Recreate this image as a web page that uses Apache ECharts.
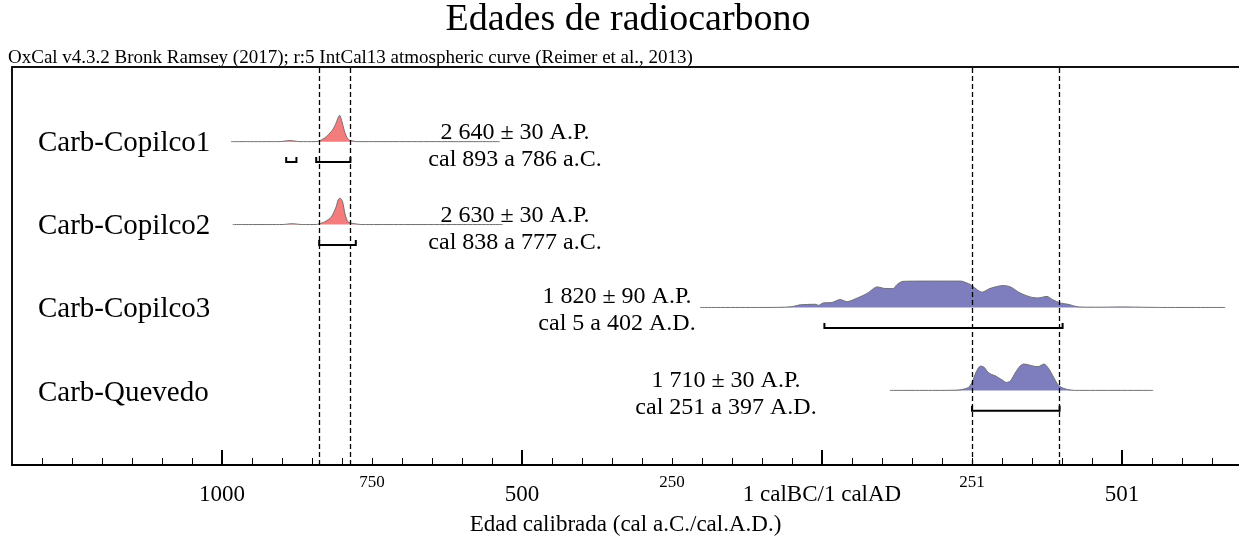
<!DOCTYPE html>
<html><head><meta charset="utf-8">
<script src="https://cdn.jsdelivr.net/npm/echarts@6/dist/echarts.min.js"></script>
<style>html,body{margin:0;padding:0;background:#fff}#c{width:1239px;height:536px}</style>
</head><body><div id="c"></div>
<script>
// ---- data (years: negative = BC, axis value) ----
const rowNames = ['Carb-Copilco1','Carb-Copilco2','Carb-Copilco3','Carb-Quevedo'];
const dateLabels = ['2 640 ± 30 A.P.','2 630 ± 30 A.P.','1 820 ± 90 A.P.','1 710 ± 30 A.P.'];
const calLabels = ['cal 893 a 786 a.C.','cal 838 a 777 a.C.','cal 5 a 402 A.D.','cal 251 a 397 A.D.'];
// relative probability [year, prob]
const copilco1 = [[-985,0],[-905,0],[-887,0.04],[-870,0],[-845,0],[-839,0.02],[-830,0.12],[-822,0.28],[-815,0.47],[-810,0.7],[-806,0.93],[-804,1.0],[-800,0.75],[-796,0.4],[-792,0.17],[-788,0.06],[-781,0.02],[-776,0],[-537,0]];
const copilco2 = [[-982,0],[-900,0],[-883,0.03],[-866,0],[-843,0],[-838,0.03],[-829,0.1],[-818,0.28],[-810,0.66],[-806,0.96],[-803,1.0],[-799,0.86],[-795,0.4],[-790,0.1],[-781,0.04],[-767,0],[-532,0]];
const copilco3 = [[-203,0],[-100,0],[-63,0.01],[-48,0.04],[-36,0.1],[-11,0.12],[-6,0.08],[2,0.17],[17,0.19],[30,0.3],[42,0.22],[59,0.36],[75,0.53],[92,0.78],[105,0.72],[119,0.72],[125,0.87],[135,0.99],[180,1.0],[230,1.0],[234,0.99],[247,0.87],[267,0.58],[280,0.72],[302,0.83],[314,0.78],[330,0.55],[347,0.4],[360,0.36],[375,0.42],[384,0.3],[397,0.17],[410,0.12],[425,0.03],[442,0.01],[470,0.01],[497,0.02],[530,0.01],[570,0],[672,0]];
const quevedo = [[113,0],[200,0],[225,0.01],[235,0.04],[244,0.11],[250,0.3],[257,0.7],[264,0.92],[270,0.88],[277,0.68],[283,0.6],[289,0.55],[294,0.48],[300,0.4],[307,0.3],[314,0.36],[322,0.66],[330,0.92],[336,1.0],[344,0.97],[352,0.92],[360,0.9],[370,1.0],[378,0.82],[386,0.5],[393,0.22],[400,0.1],[410,0.03],[422,0],[552,0]];
// highest posterior density ranges per row
const ranges1 = [[-893,-876],[-843,-786]];
const ranges2 = [[-838,-777]];
const ranges3 = [[4,401]];
const ranges4 = [[250,396]];
const dashedYears = [-838,-786,250,396];
const majorTicks = [-1000,-500,0,500];
const majorTickLabels = ['1000','500','1 calBC/1 calAD','501'];
const smallLabelTicks = [-750,-250,250];
const smallTickLabels = ['750','250','251'];
const minorTicks = [];
for (let v = -1300; v <= 650; v += 50) minorTicks.push(v);

// ---- layout / style ----
const FONT = 'Liberation Serif';
const distributions = [copilco1, copilco2, copilco3, quevedo];
const rangeSets = [ranges1, ranges2, ranges3, ranges4];
const rowBase = [3.9, 2.9, 1.9, 0.9];
const peakH = 0.318;
const bracketOff = 0.247;
const fills = ['#F47C7C','#F47C7C','#7E7EBE','#7E7EBE'];

const series = [];
distributions.forEach((d, i) => {
  series.push({
    type: 'line', xAxisIndex: 0, yAxisIndex: 0, silent: true,
    showSymbol: false, symbol: 'none', smooth: 0.25,
    data: d.map(p => [p[0], rowBase[i] + p[1] * peakH]),
    lineStyle: { color: '#707070', width: 1 },
    areaStyle: { color: fills[i], opacity: 1, origin: rowBase[i] },
    z: 2,
    markLine: i === 0 ? {
      silent: true, symbol: 'none', label: { show: false },
      lineStyle: { color: '#000', type: [5, 3], width: 1.3 },
      data: dashedYears.map(v => ({ xAxis: v }))
    } : undefined
  });
});
const bracketData = [];
rangeSets.forEach((rs, i) => rs.forEach(r => bracketData.push([r[0], r[1], rowBase[i] - bracketOff])));
series.push({
  type: 'custom', silent: true, z: 3,
  data: bracketData,
  renderItem: function (params, api) {
    const a = api.coord([api.value(0), api.value(2)]);
    const b = api.coord([api.value(1), api.value(2)]);
    return {
      type: 'polyline',
      shape: { points: [[a[0], a[1] - 5], a, b, [b[0], b[1] - 5]] },
      style: { stroke: '#000', lineWidth: 2, fill: null }
    };
  }
});

const graphics = [];
rowNames.forEach((n, i) => {
  graphics.push({ type: 'text', x: 38, y: [143, 226, 309, 393][i],
    style: { text: n, font: '29px "' + FONT + '"', fill: '#000', verticalAlign: 'middle' } });
});
const labelPos = [[515, 133], [515, 216], [617, 297], [726, 381]];
dateLabels.forEach((t, i) => {
  graphics.push({ type: 'text', x: labelPos[i][0], y: labelPos[i][1],
    style: { text: t, font: '24px "' + FONT + '"', fill: '#000', align: 'center', verticalAlign: 'middle' } });
  graphics.push({ type: 'text', x: labelPos[i][0], y: labelPos[i][1] + 27,
    style: { text: calLabels[i], font: '24px "' + FONT + '"', fill: '#000', align: 'center', verticalAlign: 'middle' } });
});
graphics.push({ type: 'text', x: 8, y: 58,
  style: { text: 'OxCal v4.3.2 Bronk Ramsey (2017); r:5 IntCal13 atmospheric curve (Reimer et al., 2013)',
    font: '19px "' + FONT + '"', fill: '#000', verticalAlign: 'middle' } });
graphics.push({ type: 'text', x: 628, y: 20,
  style: { text: 'Edades de radiocarbono', font: '38px "' + FONT + '"', fill: '#000', align: 'center', verticalAlign: 'middle' } });

const chart = echarts.init(document.getElementById('c'), null, { renderer: 'canvas' });
chart.setOption({
  animation: false,
  backgroundColor: '#fff',
  grid: { left: 12, right: 0, top: 67, bottom: 71, show: false, outerBoundsMode: 'none', containLabel: false },
  xAxis: [
    { type: 'value', min: -1350, max: 695, position: 'bottom',
      axisLine: { show: true, onZero: false, lineStyle: { color: '#000', width: 2 } },
      axisTick: { show: true, inside: true, length: 15, lineStyle: { color: '#000', width: 2 }, customValues: majorTicks },
      axisLabel: { show: true, margin: 18, color: '#000', fontFamily: FONT, fontSize: 23, customValues: majorTicks,
        formatter: v => majorTickLabels[majorTicks.indexOf(v)] },
      splitLine: { show: false },
      name: 'Edad calibrada (cal a.C./cal.A.D.)', nameLocation: 'middle', nameGap: 48,
      nameTextStyle: { color: '#000', fontFamily: FONT, fontSize: 23 } },
    { type: 'value', min: -1350, max: 695, position: 'bottom',
      axisLine: { show: false, onZero: false },
      axisTick: { show: true, inside: true, length: 7, lineStyle: { color: '#000', width: 1 }, customValues: minorTicks },
      axisLabel: { show: true, margin: 9, color: '#000', fontFamily: FONT, fontSize: 17, customValues: smallLabelTicks,
        formatter: v => smallTickLabels[smallLabelTicks.indexOf(v)] },
      splitLine: { show: false } },
    { type: 'value', min: -1350, max: 695, position: 'top',
      axisLine: { show: true, onZero: false, lineStyle: { color: '#111', width: 2 } },
      axisTick: { show: false }, axisLabel: { show: false }, splitLine: { show: false } }
  ],
  yAxis: { type: 'value', min: 0, max: 4.8, show: true, position: 'left',
    axisLine: { show: true, onZero: false, lineStyle: { color: '#111', width: 2 } },
    axisTick: { show: false }, axisLabel: { show: false }, splitLine: { show: false } },
  graphic: graphics,
  series: series
});
</script></body></html>
